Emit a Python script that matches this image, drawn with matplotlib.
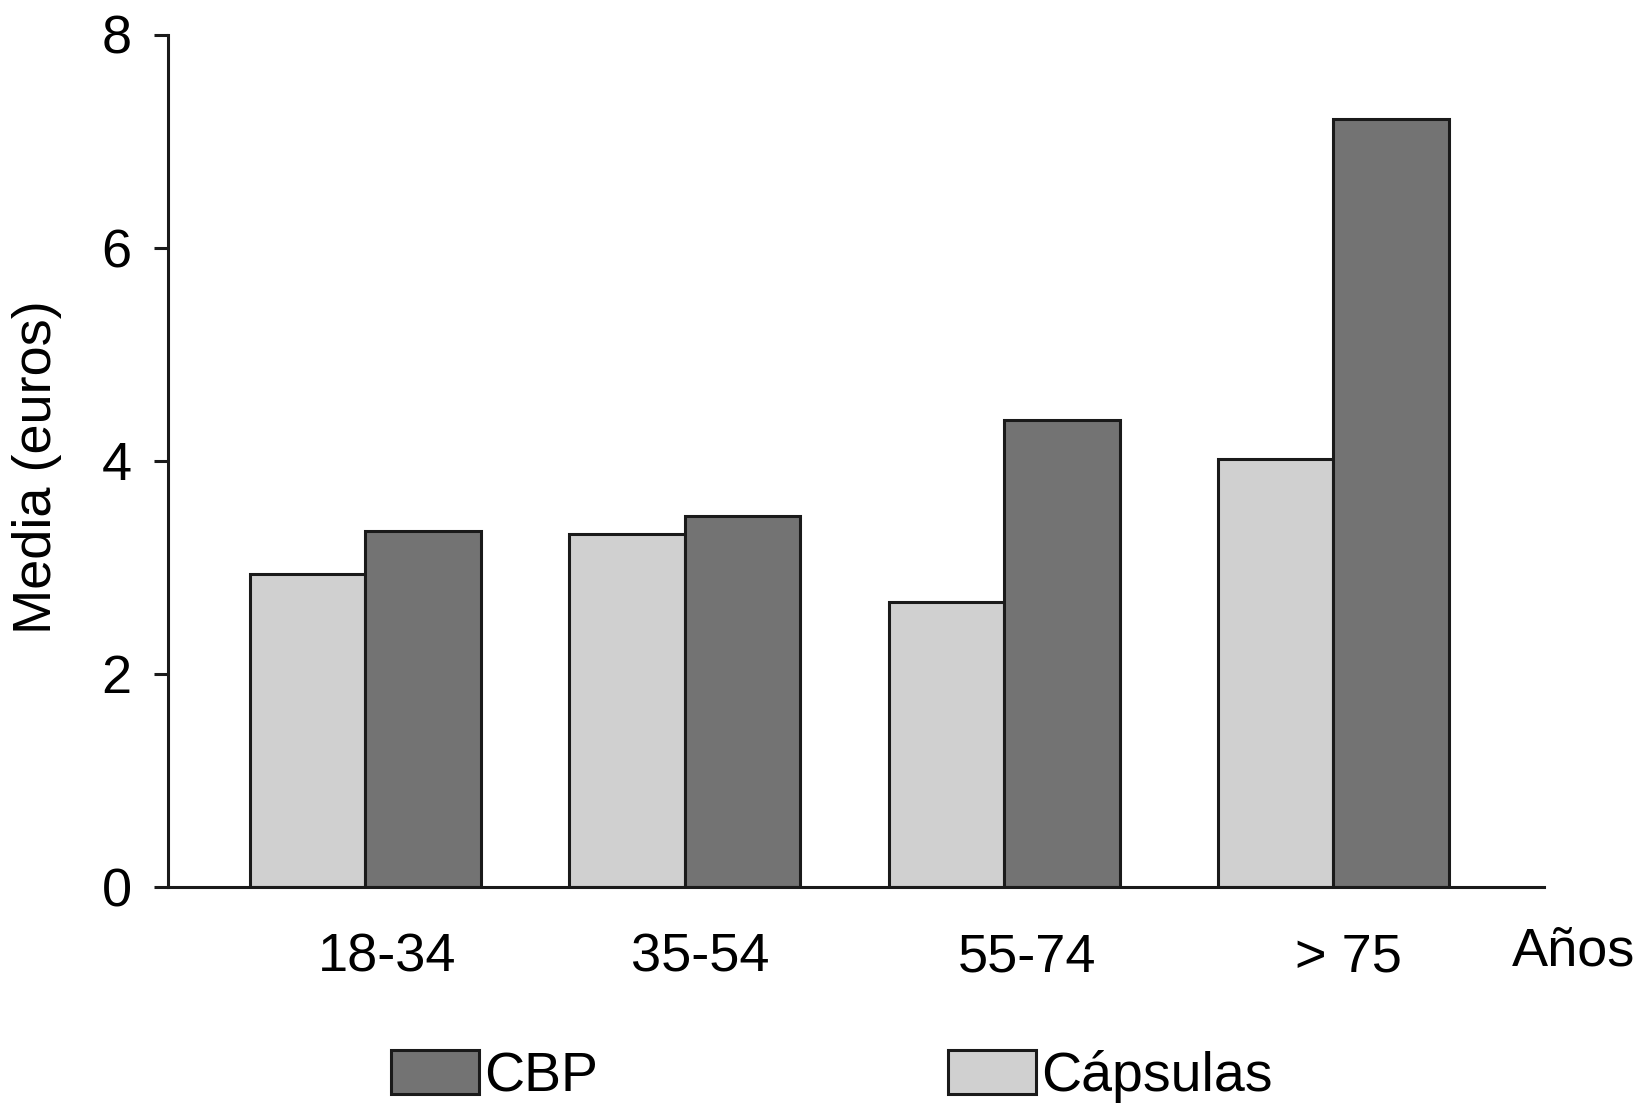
import matplotlib
matplotlib.use("Agg")
import matplotlib.pyplot as plt
from matplotlib.patches import Patch


OUTPUT_PATH = "out.png"

GROUPS = ["18-34", "35-54", "55-74", "> 75"]

CAPSULAS = [2.94, 3.31, 2.67, 4.02]

CBP = [3.34, 3.48, 4.38, 7.21]

Y_TICKS = [0, 2, 4, 6, 8]

# group positions (the last group sits a bit further right in the original)
POSITIONS = [0.0, 1.0, 2.0, 3.03]

# the group labels are set a little right of the group centres
LABEL_SHIFT = [0.068, 0.047, 0.072, 0.047]

BAR_WIDTH = 0.3615

LIGHT = "#d0d0d0"
DARK = "#737373"
EDGE = "#1a1a1a"

W, H = 1638, 1107


def plot_means():

    plt.rcParams["font.family"] = ["Liberation Sans", "DejaVu Sans"]

    fig = plt.figure(
        figsize=(W / 100, H / 100),
        dpi=100
    )

    ax = fig.add_axes(
        [167.7 / W, 1 - 887 / H, (1544 - 167.7) / W, (887 - 34.5) / H]
    )

    ax.bar(
        [p - BAR_WIDTH / 2 for p in POSITIONS],
        CAPSULAS,
        width=BAR_WIDTH,
        color=LIGHT,
        edgecolor=EDGE,
        linewidth=2.2,
        zorder=2
    )

    ax.bar(
        [p + BAR_WIDTH / 2 for p in POSITIONS],
        CBP,
        width=BAR_WIDTH,
        color=DARK,
        edgecolor=EDGE,
        linewidth=2.2,
        zorder=2
    )

    ax.set_xlim(-0.6185, 3.689)
    ax.set_ylim(0, 8)

    ax.set_yticks(Y_TICKS)
    ax.set_yticklabels([str(t) for t in Y_TICKS])

    ax.set_xticks([p + s for p, s in zip(POSITIONS, LABEL_SHIFT)])
    ax.set_xticklabels(GROUPS)

    ax.tick_params(
        axis="y",
        direction="out",
        length=10,
        width=2.2,
        pad=16,
        labelsize=39,
        color=EDGE
    )

    ax.tick_params(
        axis="x",
        length=0,
        pad=33,
        labelsize=39
    )

    for side in ["top", "right"]:
        ax.spines[side].set_visible(False)

    for side in ["left", "bottom"]:
        ax.spines[side].set_linewidth(2.2)
        ax.spines[side].set_color(EDGE)

    ax.set_ylabel(
        "Media (euros)",
        fontsize=39
    )
    ax.yaxis.set_label_coords(-0.077, 0.4927)

    ax.text(
        1.0218,
        -0.0762,
        "Años",
        transform=ax.transAxes,
        fontsize=39,
        ha="center",
        va="center",
        clip_on=False
    )

    handles = [
        Patch(facecolor=DARK, edgecolor=EDGE, linewidth=2.2, label="CBP"),
        Patch(facecolor=LIGHT, edgecolor=EDGE, linewidth=2.2, label="Cápsulas"),
    ]

    fig.legend(
        handles=handles,
        loc="center left",
        bbox_to_anchor=(391 / W, 1 - 1076.5 / H),
        ncol=2,
        frameon=False,
        fontsize=40,
        handlelength=1.585,
        handleheight=0.83,
        handletextpad=0.1,
        columnspacing=6.29,
        borderpad=0,
        borderaxespad=0
    )

    fig.savefig(
        OUTPUT_PATH,
        dpi=100
    )


if __name__ == "__main__":

    plot_means()
